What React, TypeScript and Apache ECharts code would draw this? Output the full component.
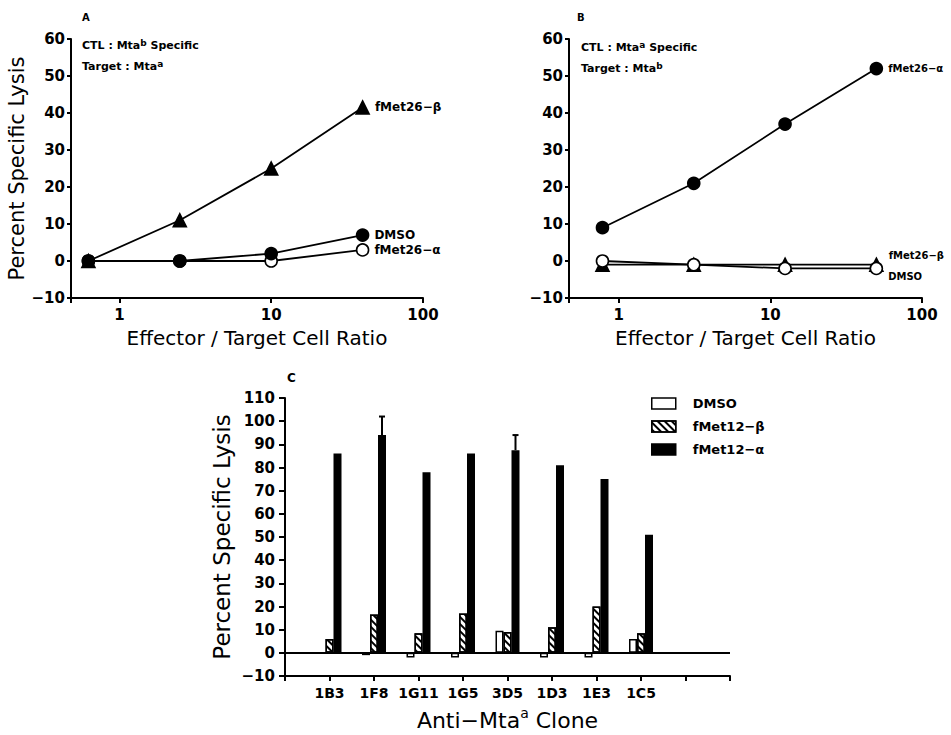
import React, { useEffect, useRef } from "react";
import * as echarts from "echarts";

// Panel A: CTL Mta^b specific, target Mta^a
const ratioA = [0.625, 2.5, 10, 40];
const aBeta = [0, 11, 25, 41.5];
const aDmso = [0, 0, 2, 7];
const aAlpha = [0, 0, 0, 3];

// Panel B: CTL Mta^a specific, target Mta^b
const ratioB = [0.78125, 3.125, 12.5, 50];
const bAlpha = [9, 21, 37, 52];
const bBeta = [-1, -1, -1, -1];
const bDmso = [0, -1, -2, -2];

// Panel C: anti-Mta^a clones
const clones = ["1B3", "1F8", "1G11", "1G5", "3D5", "1D3", "1E3", "1C5"];
const cDmso = [0, -1, -2, -2, 9.5, -2, -2, 6];
const cBeta = [6, 16.5, 8.5, 17, 9, 11, 20, 8.5];
const cAlpha = [86, 94, 78, 86, 87.5, 81, 75, 51];
const cAlphaErr = [0, 8, 0, 0, 6.5, 0, 0, 0];

const lineYTicks = { min: -10, max: 60, interval: 10 };
const barYTicks = { min: -10, max: 110, interval: 10 };

const FONT = "DejaVu Sans";
const BAR_W = 8;

export default function App() {
  const ref = useRef<HTMLDivElement>(null);

  useEffect(() => {
    const chart = echarts.init(ref.current!, null, { renderer: "svg" });
    const minus = (v: any) => String(v).replace("-", "\u2212");
    const tickLabel = { fontFamily: FONT, fontWeight: "bold", fontSize: 15, color: "#000" };
    const axisLine = { show: true, onZero: false, lineStyle: { color: "#000", width: 2 } };
    const axisTick = { show: true, length: 4, lineStyle: { color: "#000", width: 2 } };
    const isDecade = (v: number) => {
      const l = Math.log10(v);
      return Math.abs(l - Math.round(l)) < 1e-6;
    };

    const logX = (grid: number, min: number, namePadLeft: number) => ({
      type: "log",
      gridIndex: grid,
      min,
      max: 100,
      logBase: 10,
      axisLine,
      axisTick: { ...axisTick, length: 5 },
      splitLine: { show: false },
      minorTick: { show: false },
      axisLabel: {
        ...tickLabel,
        margin: 9,
        formatter: (v: number) => (isDecade(v) ? String(Math.round(v)) : ""),
      },
      name: "Effector / Target Cell Ratio",
      nameLocation: "middle",
      nameGap: 30,
      nameTextStyle: { fontFamily: FONT, fontSize: 20, color: "#000", padding: [0, 0, 0, namePadLeft] },
    });

    const linY = (grid: number, showName: boolean) => ({
      type: "value",
      gridIndex: grid,
      ...lineYTicks,
      axisLine,
      axisTick,
      splitLine: { show: false },
      axisLabel: { ...tickLabel, margin: 6, formatter: minus },
      name: showName ? "Percent Specific Lysis" : "",
      nameLocation: "middle",
      nameGap: 41,
      nameTextStyle: { fontFamily: FONT, fontSize: 21, color: "#000" },
    });

    const lineSeries = (
      name: string,
      label: string,
      xs: number[],
      ys: number[],
      grid: number,
      symbol: string,
      filled: boolean,
      labelOffset: number[],
      labelSize: number
    ) => ({
      type: "line",
      name,
      xAxisIndex: grid,
      yAxisIndex: grid,
      symbol,
      symbolSize: symbol === "triangle" ? 13 : 12,
      showAllSymbol: true,
      lineStyle: { color: "#000", width: 1.8 },
      itemStyle: { color: filled ? "#000" : "#fff", borderColor: "#000", borderWidth: 1.6 },
      label: { show: false },
      data: xs.map((x, i) =>
        i === xs.length - 1
          ? {
              value: [x, ys[i]],
              label: {
                show: true,
                position: "right",
                distance: 5,
                offset: labelOffset,
                formatter: label,
                fontFamily: FONT,
                fontWeight: "bold",
                fontSize: labelSize,
                color: "#000",
              },
            }
          : [x, ys[i]]
      ),
    });

    const cats = ["", ...clones, "", ""];
    const noteStyle = (text: string) => ({
      text,
      fontFamily: FONT,
      fontWeight: "bold",
      fontSize: 11,
      lineHeight: 15,
      fill: "#000",
      rich: {
        sup: { fontSize: 9, fontFamily: FONT, fontWeight: "bold", color: "#000", verticalAlign: "top", lineHeight: 9 },
      },
    });

    chart.setOption({
      animation: false,
      backgroundColor: "#fff",
      grid: [
        { left: 71, top: 39, width: 352, height: 259 },
        { left: 569, top: 39, width: 353, height: 259 },
        { left: 285, top: 398, width: 445, height: 282 },
      ],
      xAxis: [
        logX(0, 0.48, 20),
        logX(1, 0.47, 0),
        {
          type: "category",
          gridIndex: 2,
          data: cats,
          boundaryGap: false,
          axisLine,
          axisTick: { ...axisTick, length: 5, interval: 0 },
          axisLabel: { ...tickLabel, fontSize: 14, margin: 10, interval: 0 },
          name: "Anti\u2212Mta{sup|a} Clone",
          nameLocation: "middle",
          nameGap: 30,
          nameTextStyle: {
            fontFamily: FONT,
            fontSize: 22,
            color: "#000",
            lineHeight: 28,
            rich: { sup: { fontSize: 14, fontFamily: FONT, color: "#000", verticalAlign: "top", lineHeight: 14 } },
          },
        },
      ],
      yAxis: [
        linY(0, true),
        linY(1, false),
        {
          type: "value",
          gridIndex: 2,
          ...barYTicks,
          axisLine,
          axisTick: { ...axisTick, length: 6 },
          splitLine: { show: false },
          axisLabel: { ...tickLabel, margin: 10, formatter: minus },
          name: "Percent Specific Lysis",
          nameLocation: "middle",
          nameGap: 52,
          nameTextStyle: { fontFamily: FONT, fontSize: 23, color: "#000" },
        },
      ],
      legend: {
        data: ["DMSO", "fMet12\u2212\u03b2", "fMet12\u2212\u03b1"],
        orient: "vertical",
        left: 651,
        top: 397,
        padding: 0,
        icon: "rect",
        itemWidth: 24,
        itemHeight: 11,
        itemGap: 10,
        selectedMode: false,
        itemStyle: { borderColor: "#000", borderWidth: 1.5 },
        textStyle: { fontFamily: FONT, fontWeight: "bold", fontSize: 13, color: "#000", padding: [0, 0, 0, 12] },
      },
      graphic: [
        { type: "text", left: 82, top: 12, style: { text: "A", fontFamily: FONT, fontWeight: "bold", fontSize: 10, fill: "#000" } },
        { type: "text", left: 577, top: 12, style: { text: "B", fontFamily: FONT, fontWeight: "bold", fontSize: 10, fill: "#000" } },
        { type: "text", left: 287, top: 372, style: { text: "C", fontFamily: FONT, fontWeight: "bold", fontSize: 12, fill: "#000" } },
        { type: "text", left: 82, top: 38, style: noteStyle("CTL : Mta{sup|b} Specific") },
        { type: "text", left: 82, top: 59, style: noteStyle("Target : Mta{sup|a}") },
        { type: "text", left: 581, top: 40, style: noteStyle("CTL : Mta{sup|a} Specific") },
        { type: "text", left: 581, top: 61, style: noteStyle("Target : Mta{sup|b}") },
      ],
      series: [
        lineSeries("A fMet26-alpha", "fMet26\u2212\u03b1", ratioA, aAlpha, 0, "circle", false, [0, 0], 12),
        lineSeries("A fMet26-beta", "fMet26\u2212\u03b2", ratioA, aBeta, 0, "triangle", true, [0, 0], 12),
        lineSeries("A DMSO", "DMSO", ratioA, aDmso, 0, "circle", true, [0, 0], 12),
        lineSeries("B fMet26-beta", "fMet26\u2212\u03b2", ratioB, bBeta, 1, "triangle", true, [0, -9], 10),
        lineSeries("B DMSO", "DMSO", ratioB, bDmso, 1, "circle", false, [0, 8], 10),
        lineSeries("B fMet26-alpha", "fMet26\u2212\u03b1", ratioB, bAlpha, 1, "circle", true, [0, 0], 10),
        {
          type: "bar",
          name: "DMSO",
          xAxisIndex: 2,
          yAxisIndex: 2,
          barWidth: BAR_W,
          barGap: "0%",
          itemStyle: { color: "#fff", borderColor: "#000", borderWidth: 1.5 },
          data: cDmso.map((v, i) => [i + 1, v]),
          markLine: {
            silent: true,
            symbol: "none",
            label: { show: false },
            lineStyle: { color: "#000", width: 2, type: "solid" },
            data: [{ yAxis: 0 }],
          },
        },
        {
          type: "bar",
          name: "fMet12\u2212\u03b2",
          xAxisIndex: 2,
          yAxisIndex: 2,
          barWidth: BAR_W,
          barGap: "0%",
          itemStyle: {
            color: "#fff",
            borderColor: "#000",
            borderWidth: 1.5,
            decal: {
              symbol: "rect",
              symbolSize: 1,
              color: "#000",
              dashArrayX: [1, 0],
              dashArrayY: [2, 3],
              rotation: Math.PI / 4,
            },
          },
          data: cBeta.map((v, i) => [i + 1, v]),
        },
        {
          type: "bar",
          name: "fMet12\u2212\u03b1",
          xAxisIndex: 2,
          yAxisIndex: 2,
          barWidth: BAR_W,
          barGap: "0%",
          itemStyle: { color: "#000", borderColor: "#000", borderWidth: 1.5 },
          data: cAlpha.map((v, i) => [i + 1, v]),
        },
        {
          type: "custom",
          name: "alpha error",
          xAxisIndex: 2,
          yAxisIndex: 2,
          data: cAlpha
            .map((v, i) => [i + 1, v, v + cAlphaErr[i]])
            .filter((_, i) => cAlphaErr[i] > 0),
          renderItem: (_params: any, api: any) => {
            const base = api.coord([api.value(0), api.value(1)]);
            const top = api.coord([api.value(0), api.value(2)]);
            const x = base[0] + BAR_W;
            return {
              type: "group",
              children: [
                { type: "line", shape: { x1: x, y1: base[1], x2: x, y2: top[1] }, style: { stroke: "#000", lineWidth: 2 } },
                { type: "line", shape: { x1: x - 3, y1: top[1], x2: x + 3, y2: top[1] }, style: { stroke: "#000", lineWidth: 2 } },
              ],
            };
          },
        },
      ],
    });

    return () => chart.dispose();
  }, []);

  return (
    <div
      ref={ref}
      style={{ position: "absolute", left: 0, top: 0, width: 951, height: 735, background: "#fff" }}
    />
  );
}
